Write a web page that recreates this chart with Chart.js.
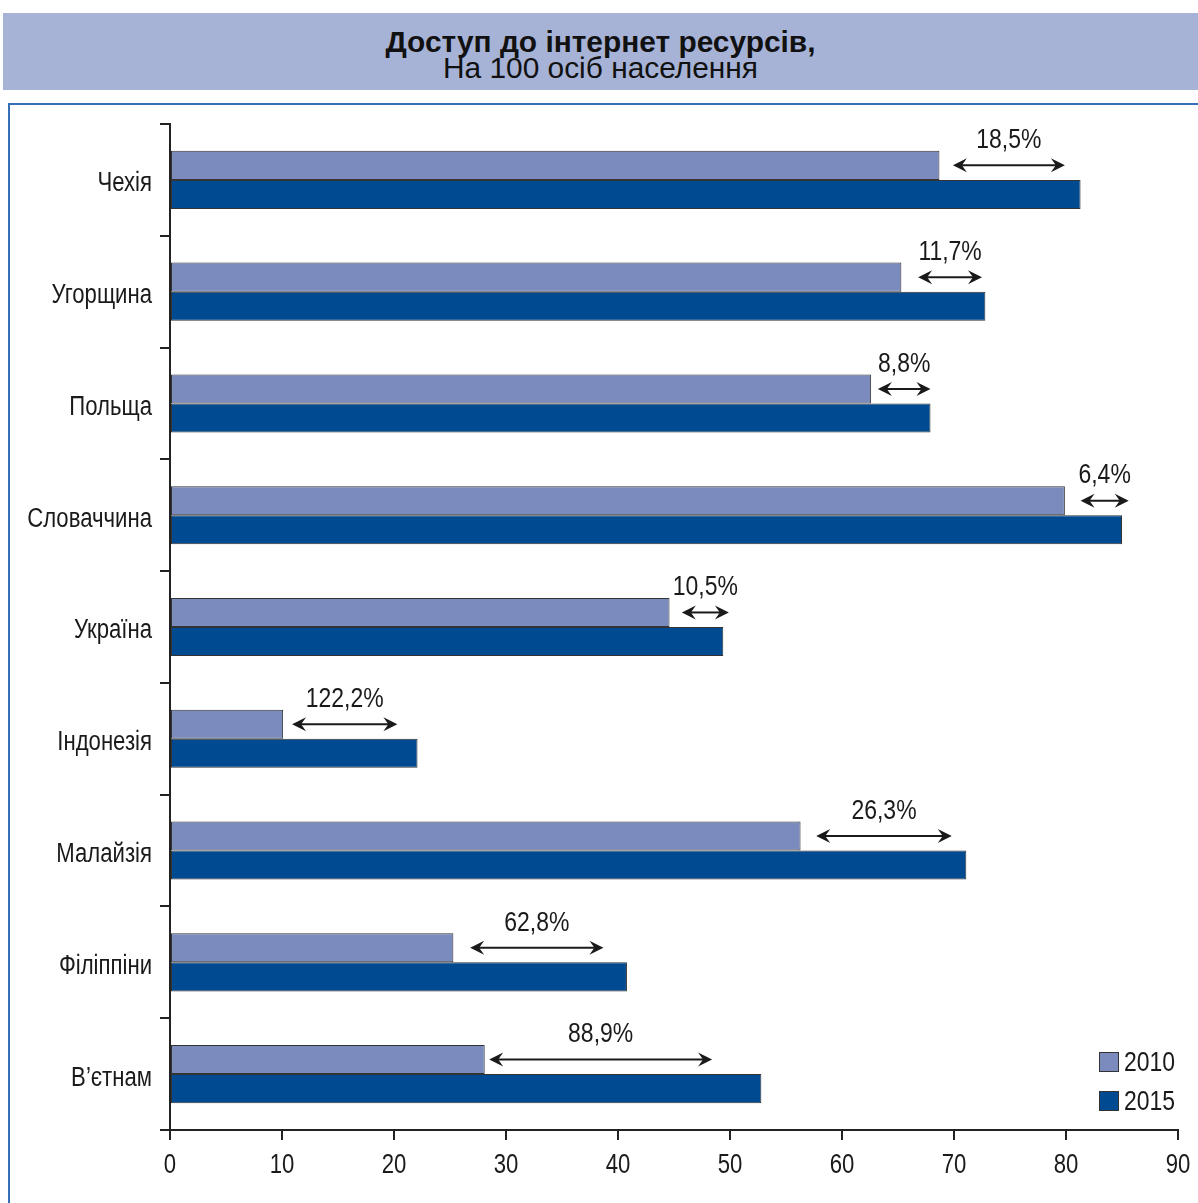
<!DOCTYPE html>
<html>
<head>
<meta charset="utf-8">
<script src="https://cdn.jsdelivr.net/npm/chart.js@4.4.1/dist/chart.umd.min.js"></script>
<style>
  html, body { margin: 0; padding: 0; background: #fff; }
  body { width: 1198px; height: 1203px; position: relative; overflow: hidden;
         font-family: "Liberation Sans", Arial, sans-serif; }
  #banner { position: absolute; left: 3px; top: 13px; width: 1195px; height: 77px; background: #a7b3d6;
            color: #111; }
  #banner div { position: absolute; left: 0; width: 100%; text-align: center; transform: scaleX(1.03); }
  #banner .t1 { top: 15px; font-weight: bold; font-size: 29px; line-height: 29px; }
  #banner .t2 { top: 41px; font-size: 29px; line-height: 29px; }
  #frame { position: absolute; left: 8px; top: 103px; right: 0; bottom: 0;
           border-left: 2px solid #3570b6; border-top: 2px solid #3570b6; }
  #wrap { position: absolute; left: 0; top: 0; width: 1198px; height: 1203px; }
</style>
</head>
<body>
<div id="banner">
  <div class="t1">Доступ до інтернет ресурсів,</div>
  <div class="t2">На 100 осіб населення</div>
</div>
<div id="frame"></div>
<div id="wrap"><canvas id="chart" width="1198" height="1203"></canvas></div>
<script>
const FONT = '"Liberation Sans", Arial, sans-serif';
const NARROW = 0.82;

// дані
const categories = ['Чехія', 'Угорщина', 'Польща', 'Словаччина', 'Україна', 'Індонезія', 'Малайзія', 'Філіппіни', 'В’єтнам'];
const values2010 = [68.7, 65.3, 62.6, 79.9, 44.6, 10.1, 56.3, 25.3, 28.1];
const values2015 = [81.3, 72.8, 67.9, 85.0, 49.4, 22.1, 71.1, 40.8, 52.8];
const growthLabels = ['18,5%', '11,7%', '8,8%', '6,4%', '10,5%', '122,2%', '26,3%', '62,8%', '88,9%'];
const arrowFrom = [69.9, 66.8, 63.2, 81.3, 45.7, 10.9, 57.7, 26.8, 28.5];
const arrowTo = [79.9, 72.5, 67.9, 85.6, 49.9, 20.3, 69.8, 38.7, 48.4];
const xTicks = [0, 10, 20, 30, 40, 50, 60, 70, 80, 90];
const seriesNames = ['2010', '2015'];
const seriesColors = ['#7b8bbd', '#004a91'];

// вузький текст (як Helvetica Narrow)
function narrowText(ctx, text, x, y, size, align) {
    ctx.save();
    ctx.translate(x, y);
    ctx.scale(NARROW, 1);
    ctx.font = size + 'px ' + FONT;
    ctx.textAlign = align;
    ctx.textBaseline = 'middle';
    ctx.fillText(text, 0, 0);
    ctx.restore();
}

function drawArrowHead(ctx, x, y, dir) {
    ctx.beginPath();
    ctx.moveTo(x, y);
    ctx.lineTo(x - dir * 14, y - 7);
    ctx.lineTo(x - dir * 9, y);
    ctx.lineTo(x - dir * 14, y + 7);
    ctx.closePath();
    ctx.fill();
}

const labelsPlugin = {
    id: 'narrowLabels',
    afterDraw(chart) {
        const ctx = chart.ctx;
        const xs = chart.scales.x;
        const ys = chart.scales.y;
        const area = chart.chartArea;
        ctx.save();
        ctx.fillStyle = '#1a1a1a';
        xTicks.forEach(v => narrowText(ctx, String(v), xs.getPixelForValue(v), area.bottom + 36, 27, 'center'));
        categories.forEach((c, i) => narrowText(ctx, c, area.left - 18, ys.getPixelForValue(i) + 4, 27, 'right'));
        ctx.restore();
    }
};

const arrowsPlugin = {
    id: 'arrows',
    afterDatasetsDraw(chart) {
        const ctx = chart.ctx;
        const xs = chart.scales.x;
        const meta = chart.getDatasetMeta(0);
        ctx.save();
        ctx.strokeStyle = '#1a1a1a';
        ctx.fillStyle = '#1a1a1a';
        ctx.lineWidth = 2;
        categories.forEach((c, i) => {
            const y = meta.data[i].y;
            const x1 = xs.getPixelForValue(arrowFrom[i]);
            const x2 = xs.getPixelForValue(arrowTo[i]);
            ctx.beginPath();
            ctx.moveTo(x1 + 8, y);
            ctx.lineTo(x2 - 8, y);
            ctx.stroke();
            drawArrowHead(ctx, x1, y, -1);
            drawArrowHead(ctx, x2, y, 1);
            narrowText(ctx, growthLabels[i], (x1 + x2) / 2, y - 25, 28, 'center');
        });
        ctx.restore();
    }
};

const legendPlugin = {
    id: 'boxLegend',
    afterDraw(chart) {
        const ctx = chart.ctx;
        const area = chart.chartArea;
        ctx.save();
        seriesNames.forEach((name, i) => {
            const bx = area.right - 79;
            const by = area.bottom - 78 + i * 39;
            ctx.fillStyle = seriesColors[i];
            ctx.fillRect(bx, by, 20, 20);
            ctx.strokeStyle = '#333';
            ctx.lineWidth = 1;
            ctx.strokeRect(bx + 0.5, by + 0.5, 19, 19);
            ctx.fillStyle = '#1a1a1a';
            narrowText(ctx, name, bx + 25, by + 11, 28, 'left');
        });
        ctx.restore();
    }
};

new Chart(document.getElementById('chart'), {
    type: 'bar',
    data: {
        labels: categories,
        datasets: [
            { label: seriesNames[0], data: values2010, backgroundColor: seriesColors[0] },
            { label: seriesNames[1], data: values2015, backgroundColor: seriesColors[1] }
        ].map(ds => Object.assign(ds, {
            borderColor: '#333',
            borderWidth: 1,
            borderSkipped: false,
            categoryPercentage: 0.52,
            barPercentage: 1
        }))
    },
    options: {
        indexAxis: 'y',
        responsive: false,
        animation: false,
        layout: { padding: { top: 124, right: 20, left: 0, bottom: 0 } },
        plugins: { legend: { display: false }, tooltip: { enabled: false } },
        scales: {
            x: {
                min: 0, max: 90,
                afterBuildTicks: s => { s.ticks = xTicks.map(v => ({ value: v })); },
                afterFit: s => { s.height = 73; },
                grid: { drawOnChartArea: false, tickLength: 10, color: '#222', lineWidth: 2 },
                border: { display: true, color: '#222', width: 2 },
                ticks: { display: false }
            },
            y: {
                afterFit: s => { s.width = 170; },
                grid: { offset: true, drawOnChartArea: false, tickLength: 10, color: '#222', lineWidth: 2 },
                border: { display: true, color: '#222', width: 2 },
                ticks: { display: false }
            }
        }
    },
    plugins: [arrowsPlugin, labelsPlugin, legendPlugin]
});
</script>
</body>
</html>
